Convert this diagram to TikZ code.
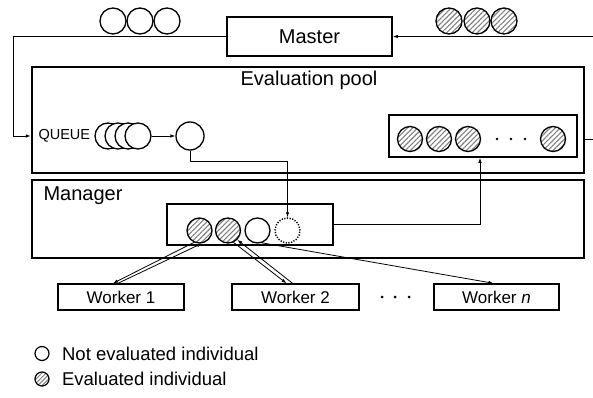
\documentclass[tikz,border=0pt]{standalone}
\usepackage{fontspec}
\setmainfont{Liberation Sans}
\usetikzlibrary{positioning, arrows.meta, patterns.meta, calc}

\begin{document}
\begin{tikzpicture}[x=1pt, y=-1pt,
  box/.style={draw, line width=1.8pt, inner sep=0pt},
  bigbox/.style={draw, line width=2.5pt, inner sep=0pt},
  wbox/.style={draw, line width=1.4pt, minimum height=26pt, font=\fontsize{17}{20}\selectfont},
  indiv/.style={circle, draw, line width=1.3pt, fill=white, minimum size=25pt, inner sep=0pt},
  evald/.style={indiv, preaction={fill=white},
    pattern={Lines[angle=45, distance=3.6pt, line width=1.1pt]}, pattern color=gray},
  link/.style={line width=0.8pt, -{Latex[length=5pt, width=3.5pt]}},
  lbl/.style={font=\fontsize{20}{24}\selectfont},
  legend/.style={font=\fontsize{18.5}{22}\selectfont}]
  \useasboundingbox (0,0) rectangle (593,398);

  % master and the two pools
  \node[box, lbl, minimum width=165pt, minimum height=39pt] (master) at (309.5,36.5) {Master};
  \node[bigbox, minimum width=552pt, minimum height=106pt] (pool) at (308,120) {};
  \node[lbl] (pooltxt) at (309,80) {Evaluation pool};
  \node[bigbox, minimum width=552pt, minimum height=78pt] (mgr) at (308,219) {};
  \node[lbl, anchor=west] (mgrtxt) at (40,196) {Manager};

  % individuals sent and returned
  \foreach \i/\x in {1/113,2/140,3/167}
    \node[indiv, minimum size=26pt] (sent\i) at (\x,21) {};
  \foreach \i/\x in {1/449,2/477,3/504}
    \node[evald, minimum size=26pt] (back\i) at (\x,21) {};

  % queue
  \node[anchor=west, font=\fontsize{14.5}{17}\selectfont] (queue) at (35,136) {QUEUE};
  \foreach \i/\x in {1/108,2/118,3/128,4/138}
    \node[indiv, minimum size=26pt] (q\i) at (\x,136) {};
  \node[indiv, minimum size=28pt] (qnext) at (190,136) {};

  % evaluated individuals
  \node[box, minimum width=188pt, minimum height=42pt] (rbox) at (483,136) {};
  \foreach \i/\x in {1/410,2/439,3/468,4/553}
    \node[evald] (done\i) at (\x,139) {};
  \foreach \x in {497,511,525}
    \fill (\x,139) circle (1.3pt);

  % manager slots
  \node[box, minimum width=166pt, minimum height=41pt] (mbox) at (250,224.5) {};
  \node[evald] (m1) at (199.5,230.5) {};
  \node[evald] (m2) at (228,230.5) {};
  \node[indiv] (m3) at (257.5,230.5) {};
  \node[indiv, line width=1.5pt, dash pattern=on 1.2pt off 1.5pt] (m4) at (287.5,230.5) {};

  % workers
  \node[wbox, minimum width=126pt] (w1) at (121,297) {Worker 1};
  \node[wbox, minimum width=127pt] (w2) at (295.5,297) {Worker 2};
  \node[wbox, minimum width=125pt] (wn) at (496.5,297) {Worker \textit{n}};
  \foreach \x in {382,395,409}
    \fill (\x,297) circle (1.5pt);

  % connectors
  \coordinate (lrim) at (13,36.5);
  \coordinate (rrim) at (600,139);
  \draw[link] (master.west) -- (lrim) |- (pool.west |- queue);
  \draw[link] (pool.east |- done4) -- (rrim) |- (master.east);
  \draw[link] (q4) -- (qnext);
  \draw[link] (qnext.south) -- ++(0,11) -| (m4.north);
  \draw[link] (mbox.east) -| ([xshift=-3pt]rbox.south);
  \draw[link] (m1.-115) -- ([xshift=-8pt]w1.north);
  \draw[link] ([xshift=-3pt]w1.north) -- (m1.-80);
  \draw[link] (m2.-65) -- ([xshift=-9pt]w2.north);
  \draw[link] ([xshift=-3pt]w2.north) -- (m2.-45);
  \draw[link] (m3.-70) -- ([xshift=-3pt]wn.north);

  % legend
  \node[indiv, minimum size=14pt, line width=1.2pt] (lg1) at (42,353.5) {};
  \node[legend, right=9pt of lg1] (lg1txt) {Not evaluated individual};
  \node[evald, minimum size=14pt, line width=1.2pt,
        pattern={Lines[angle=45, distance=3pt, line width=1pt]}] (lg2) at (42,379) {};
  \node[legend, right=9pt of lg2] (lg2txt) {Evaluated individual};
\end{tikzpicture}
\end{document}
